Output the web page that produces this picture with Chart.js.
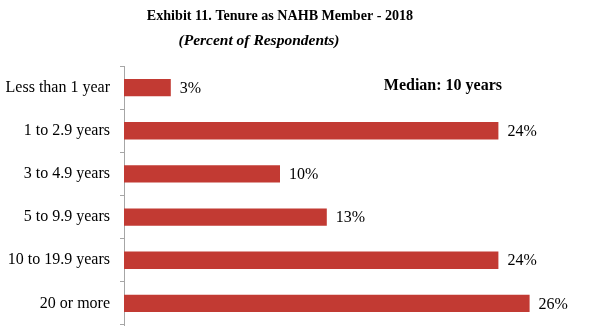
<!DOCTYPE html>
<html>
<head>
<meta charset="utf-8">
<script src="https://cdn.jsdelivr.net/npm/chart.js@4"></script>
<style>
  html, body { margin: 0; padding: 0; background: #fff; overflow: hidden; }
  canvas { display: block; }
</style>
</head>
<body>
<canvas id="tenure" width="599" height="335"></canvas>
<script>
// Tenure buckets and share of respondents (%)
const categories = ['Less than 1 year', '1 to 2.9 years', '3 to 4.9 years', '5 to 9.9 years', '10 to 19.9 years', '20 or more'];
const shares = [3, 24, 10, 13, 24, 26];

const titleText = 'Exhibit 11. Tenure as NAHB Member - 2018';
const subtitleText = '(Percent of Respondents)';
const medianNote = 'Median: 10 years';

const SERIF = '"Liberation Serif", "Times New Roman", serif';

// headings, median note and % labels next to each bar
const annotate = {
  id: 'annotate',
  afterDatasetsDraw(chart) {
    const ctx = chart.ctx;
    ctx.save();
    ctx.fillStyle = '#000';
    ctx.textBaseline = 'alphabetic';
    ctx.textAlign = 'center';

    // title is set a little narrow
    ctx.save();
    ctx.translate(280, 20);
    ctx.scale(0.94, 1);
    ctx.font = 'bold 15px ' + SERIF;
    ctx.fillText(titleText, 0, 0);
    ctx.restore();

    ctx.font = 'italic bold 15.5px ' + SERIF;
    ctx.fillText(subtitleText, 259, 45);

    ctx.textAlign = 'right';
    ctx.font = 'bold 16px ' + SERIF;
    ctx.fillText(medianNote, 502, 90);

    ctx.textAlign = 'left';
    ctx.textBaseline = 'middle';
    ctx.font = '16px ' + SERIF;
    chart.getDatasetMeta(0).data.forEach((bar, i) => {
      ctx.fillText(shares[i] + '%', bar.x + 9, bar.y + 1);
    });
    ctx.restore();
  }
};

new Chart(document.getElementById('tenure'), {
  type: 'bar',
  data: {
    labels: categories,
    datasets: [{
      data: shares,
      backgroundColor: '#C23A33',
      borderWidth: 0,
      barPercentage: 0.4,
      categoryPercentage: 1
    }]
  },
  options: {
    indexAxis: 'y',
    responsive: false,
    animation: false,
    layout: { padding: { top: 66, bottom: 10, right: 7, left: 0 } },
    plugins: { legend: { display: false }, tooltip: { enabled: false } },
    scales: {
      x: { display: false, min: 0, max: 30 },
      y: {
        afterFit: s => { s.width = 124; s.paddingTop = 0; s.paddingBottom = 0; },
        grid: { offset: true, drawOnChartArea: false, tickLength: 4, color: '#a6a6a6' },
        border: { display: true, color: '#a6a6a6', width: 1 },
        ticks: { color: '#000', padding: 10, font: { family: SERIF, size: 16 } }
      }
    }
  },
  plugins: [annotate]
});
</script>
</body>
</html>
